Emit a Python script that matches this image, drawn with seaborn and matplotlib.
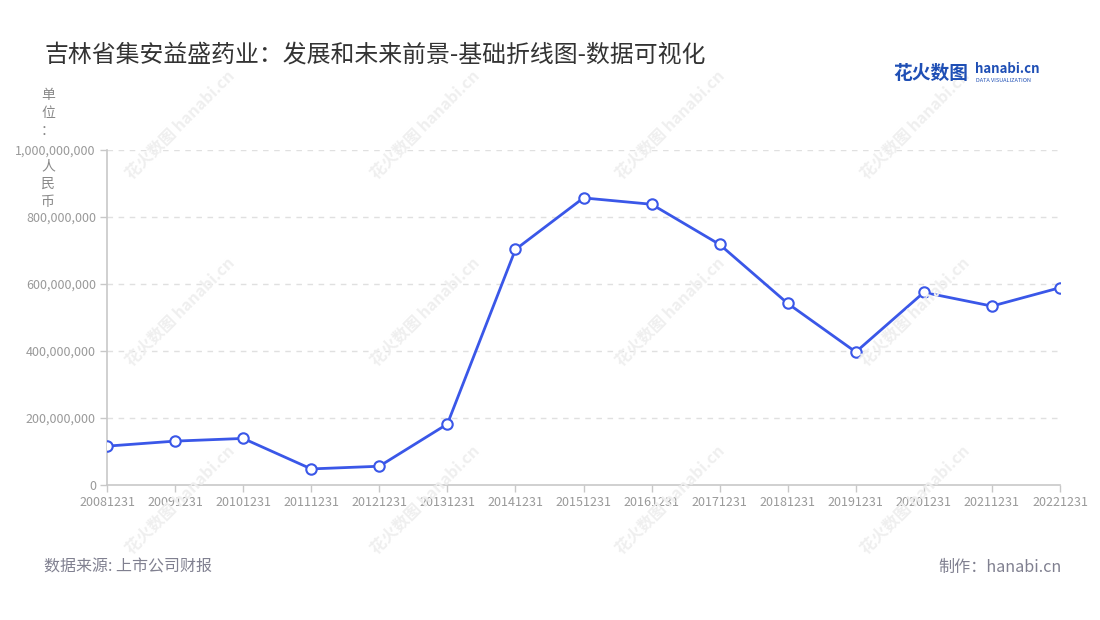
import matplotlib
matplotlib.use("Agg")
import matplotlib.pyplot as plt
import matplotlib.ticker as mticker
import seaborn as sns
import pandas as pd

periods = ["20081231", "20091231", "20101231", "20111231", "20121231", "20131231",
           "20141231", "20151231", "20161231", "20171231", "20181231", "20191231",
           "20201231", "20211231", "20221231"]
values = [116e6, 131e6, 139e6, 48e6, 56e6, 182e6, 703e6, 857e6, 838e6, 718e6,
          542e6, 397e6, 575e6, 534e6, 589e6]
y_ticks = [0, 200e6, 400e6, 600e6, 800e6, 1000e6]

title = "吉林省集安益盛药业：发展和未来前景-基础折线图-数据可视化"
unit_label_parts = ["单位：", "人民币"]
source_text = "数据来源: 上市公司财报"
maker_text = "制作：hanabi.cn"

sns.set_theme(style="white")
plt.rcParams['font.family'] = ['Noto Sans CJK SC', 'DejaVu Sans']

df = pd.DataFrame({"idx": range(len(periods)), "period": periods, "value": values})

fig = plt.figure(figsize=(11, 6.2), dpi=100)
ax = fig.add_axes([107/1100, 1-485/620, (1060-107)/1100, (485-150)/620])

# watermarks
for wx in [180, 425, 670, 915]:
    for wy in [125, 312, 500]:
        fig.text(wx/1100, 1-wy/620, "花火数图 hanabi.cn", rotation=45, ha="center", va="center",
                 fontsize=11.5, color="#efefef", fontweight="bold", zorder=0)

line_color = "#3a57e8"
sns.lineplot(data=df, x="idx", y="value", ax=ax, color=line_color, linewidth=2.0,
             marker="o", markersize=7.5, markerfacecolor="white", markeredgecolor=line_color,
             markeredgewidth=1.5, zorder=5)

ax.set_xlim(0, len(periods) - 1)
ax.set_ylim(0, 1e9)
ax.set_xticks(range(len(periods)))
ax.set_xticklabels(periods)
ax.set_yticks(y_ticks)
ax.yaxis.set_major_formatter(mticker.FuncFormatter(lambda v, p: f"{int(v):,}"))
ax.set_xlabel("")
ax.set_ylabel("")
ax.patch.set_alpha(0)

for yv in y_ticks[1:]:
    ax.axhline(yv, color="#e0e0e0", linewidth=1, linestyle=(0, (4, 4)), zorder=1)

for s in ["top", "right"]:
    ax.spines[s].set_visible(False)
for s in ["left", "bottom"]:
    ax.spines[s].set_color("#c8c8c8")
    ax.spines[s].set_linewidth(1.2)

ax.tick_params(axis="both", which="major", length=5, width=1, color="#c8c8c8",
               labelsize=9, labelcolor="#999999", pad=3, bottom=True, left=True)

# title
fig.text(44/1100, 1-55/620, title, ha="left", va="center", fontsize=17.2, color="#333333")

# unit label, vertical stacked in two blocks (gap around the top tick label)
for part, top in zip(unit_label_parts, [88, 159]):
    fig.text(48/1100, 1-top/620, "\n".join(part), ha="center", va="top", fontsize=10,
             color="#888888", linespacing=1.36)

# footer
fig.text(44/1100, 1-567/620, source_text, ha="left", va="center", fontsize=11.5, color="#808090")
fig.text(1062/1100, 1-567/620, maker_text, ha="right", va="center", fontsize=11.6, color="#808090")

# logo
fig.text(893/1100, 1-73/620, "花火数图", ha="left", va="center", fontsize=13.5,
         color="#1f4fb5", fontweight="bold")
fig.text(975/1100, 1-69/620, "hanabi.cn", ha="left", va="center", fontsize=9.5,
         color="#1f4fb5", fontweight="bold")
fig.text(976/1100, 1-80/620, "DATA VISUALIZATION", ha="left", va="center", fontsize=4,
         color="#1f4fb5")

fig.savefig("out.png", dpi=100)
